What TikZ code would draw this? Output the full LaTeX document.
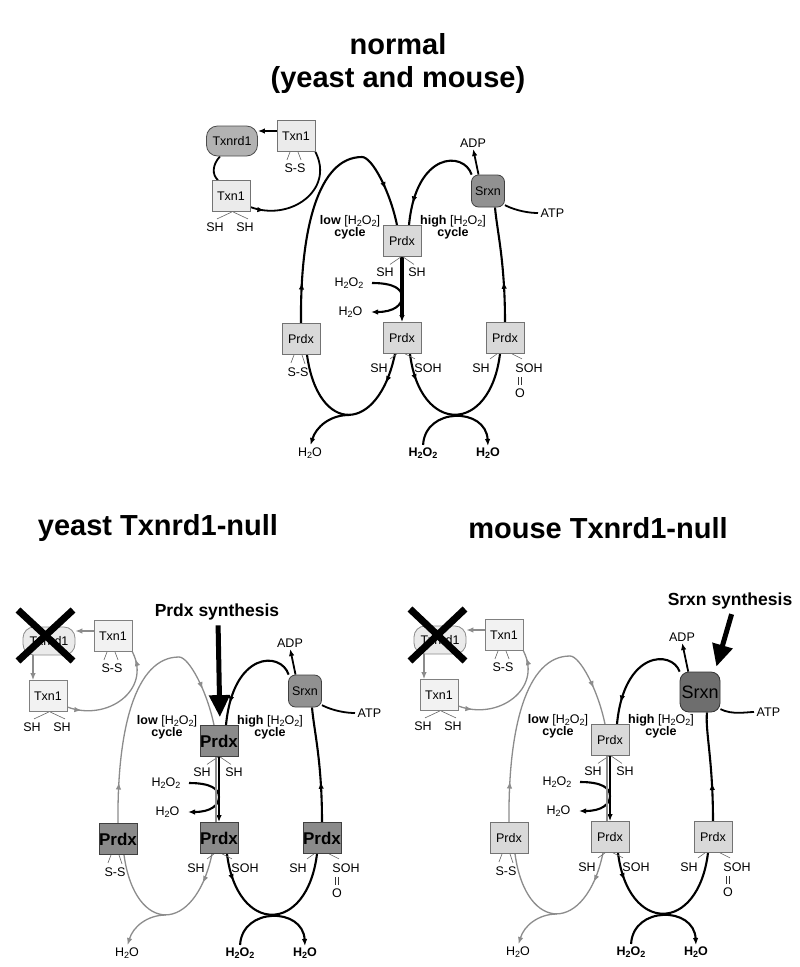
\documentclass[tikz,border=0pt]{standalone}
\usepackage{fontspec}
\setmainfont{Liberation Sans}
\usetikzlibrary{arrows.meta,decorations.markings}
\pgfdeclarelayer{back}
\pgfdeclarelayer{bg}
\pgfsetlayers{back,bg,main}
\newcommand\two{\raisebox{-0.3ex}{\scalebox{0.72}{2}}}
\newcommand\hho{H\two O}
\newcommand\hhoo{H\two O\two}
\tikzset{
  >={Latex[length=7pt,width=5.5pt]},
  mk/.style={postaction={decorate,decoration={markings,mark=at position #1 with {\arrow{>}}}}},
  lbl/.style={font=\fontsize{12.5}{12}\selectfont,inner sep=0.5pt},
  boldlbl/.style={lbl,font=\bfseries\fontsize{12.5}{12}\selectfont},
  box/.style={draw=black!55,line width=0.8pt,minimum width=38pt,minimum height=31pt,inner sep=0pt,font=\fontsize{12.5}{13}\selectfont},
  prdx/.style={box,fill=black!15},
  txn/.style={box,fill=black!8},
  txnrd/.style={box,fill=black!30,draw=black!70,rounded corners=11pt,minimum width=51pt,minimum height=30pt},
  srxn/.style={box,fill=black!43,draw=black!75,rounded corners=7pt,minimum width=33pt,minimum height=32pt},
  mainl/.style={line width=2.1pt},
  lowl/.style={line width=2.1pt},
  adpl/.style={line width=1.8pt},
  txnl/.style={line width=1.8pt},
  txnloop/.style={mk=0.13},
  midl/.style={line width=3.6pt},
  tick/.style={draw=black!60,line width=0.6pt},
  title/.style={font=\bfseries\fontsize{29}{30}\selectfont,inner sep=0pt},
  synth/.style={font=\bfseries\fontsize{17.5}{18}\selectfont,inner sep=0pt},
  bigarrow/.style={line width=5pt,-{Triangle[length=22pt,width=20pt]}},
  cross/.style={line width=7pt,black}
}
\newcommand\drawcycle[1]{%
  \node[prdx] (#1P0) at (0,0) {Prdx};
  \node[prdx] (#1P1) at (0,97) {Prdx};
  \node[prdx] (#1P2) at (-101,98) {Prdx};
  \node[prdx] (#1P3) at (103,97) {Prdx};
  \node[srxn] (#1S) at \srxnat {Srxn};
  \node[txnrd] (#1R) at (-170,-100) {Txnrd1};
  \node[txn] (#1T1) at (-106,-105) {Txn1};
  \node[txn] (#1T2) at (-171,-45) {Txn1};
  \node[lbl] (#1a1) at (-17,31) {SH};
  \node[lbl] (#1a2) at (15,31) {SH};
  \node[lbl] (#1b1) at (-23,127) {SH};
  \node[lbl] (#1b2) at (26,127) {SOH};
  \node[lbl] (#1c1) at (79,127) {SH};
  \node[lbl] (#1c2) at (127,127) {SOH};
  \node[lbl] (#1cO) at (118,152) {O};
  \node[lbl] (#1d) at (-104,131) {S-S};
  \node[lbl] (#1e) at (-107,-73) {S-S};
  \node[lbl] (#1f1) at (-187,-14) {SH};
  \node[lbl] (#1f2) at (-157,-14) {SH};
  \node[lbl,anchor=east] (#1hm) at (-38,42) {\hhoo};
  \node[lbl,anchor=east] (#1om) at (-39,71) {\hho};
  \node[lbl,align=center] (#1lc) at (-52,-14) {\textbf{low} [\hhoo]\\\textbf{cycle}};
  \node[lbl,align=center] (#1hc) at (51,-14) {\textbf{high} [\hhoo]\\\textbf{cycle}};
  \node[lbl] (#1w1) at (-92,212) {\hho};
  \node[boldlbl] (#1w2) at (21,212) {\hhoo};
  \node[boldlbl] (#1w3) at (86,212) {\hho};
  \node[lbl] (#1adp) at \adpat {ADP};
  \node[lbl,anchor=west] (#1atp) at \atpat {ATP};
  \path ([yshift=5pt]#1T1.west) coordinate (#1tw);
  \begin{pgfonlayer}{bg}
    \draw[lowl,mk=0.15,mk=0.86] (#1P2.north) .. controls (-102,-11) and (-84,-84) .. (-40,-84) .. controls (-30,-84) and (-12,-50) .. ([xshift=-5pt]#1P0.north);
    \draw[lowl,mk=0.19] ([xshift=-7pt]#1P1.south) .. controls (-24,194) and (-84,194) .. ([xshift=6pt]#1P2.south);
    \draw[lowl,->,shorten >=2pt] (-53,174) .. controls (-72,174) and (-86,186) .. (#1w1.north);
    \draw[midl,->] (#1P0.south) -- (#1P1.north);
    \draw[mainl,->] ([xshift=8pt]#1hm.east) .. controls (-8,42) and (0,48) .. (0,56) .. controls (0,64) and (-8,71) .. ([xshift=8pt]#1om.east);
    \draw[mainl,mk=0.8] (#1S.135) .. controls (62,-90) and (14,-90) .. ([xshift=7pt]#1P0.north);
    \draw[mainl,mk=0.35] (#1P3.north) .. controls (103,20) and (95,-10) .. ([xshift=7pt]#1S.south);
    \draw[mainl,mk=0.17] ([xshift=8pt]#1P1.south) .. controls (18,194) and (88,194) .. ([xshift=-5pt]#1P3.south);
    \draw[mainl,->,shorten <=2pt,shorten >=1pt] (#1w2.north) .. controls (23,166) and (84,166) .. (#1w3.north);
    \draw[adpl,->,shorten >=1pt] (#1S.120) -- (#1adp.south);
    \draw[adpl,shorten >=2pt] (#1S.-40) .. controls +(12,6) and +(-10,0) .. (#1atp.west);
    \draw[txnl,txnloop] ([yshift=-11pt]#1T2.east) .. controls (-112,-19) and (-67,-51) .. (#1T1.south east);
    \draw[txnl,->] (#1tw) -- (#1tw -| #1R.east);
    \draw[tick] ([xshift=-1pt]#1P0.south) -- ++(-11,7.5);
    \draw[tick] ([xshift=1pt]#1P0.south) -- ++(11,7.5);
    \draw[tick] ([xshift=-5pt]#1P1.south) -- ++(-7,5);
    \draw[tick] ([xshift=3pt]#1P1.south) -- ++(10,5);
    \draw[tick] ([xshift=-8pt]#1P3.south) -- ++(-7,5);
    \draw[tick] ([xshift=7pt]#1P3.south) -- ++(10,5);
    \draw[tick] ([xshift=-7pt]#1P2.south) -- ++(-3,8);
    \draw[tick] ([xshift=1pt]#1P2.south) -- ++(3,9);
    \draw[tick] ([xshift=-6pt]#1T1.south) -- ++(-3,8);
    \draw[tick] ([xshift=2pt]#1T1.south) -- ++(3,8);
    \draw[tick] ([xshift=1pt]#1T2.south) -- ++(-15,7);
    \draw[tick] ([xshift=2pt]#1T2.south) -- ++(15,7);
    \draw[tick,draw=black!80] ([xshift=-1.6pt,yshift=3pt]#1cO.north) -- ++(0,-8);
    \draw[tick,draw=black!80] ([xshift=1.6pt,yshift=3pt]#1cO.north) -- ++(0,-8);
  \end{pgfonlayer}
}
\begin{document}
\begin{tikzpicture}[x=1pt,y=-1pt]
\begin{pgfonlayer}{back}
\fill[white] (0,0) rectangle (800,967);
\end{pgfonlayer}
\useasboundingbox (0,0) rectangle (800,967);
\node[title] (t1) at (398,44) {normal};
\node[title] (t2) at (398,80) {(yeast and mouse)};
\node[title] (t3) at (158,528) {yeast Txnrd1-null};
\node[title] (t4) at (598,528) {mouse Txnrd1-null};
% top: normal
\begin{scope}[shift={(402,241)}]
  \def\srxnat{(86,-50)}\def\adpat{(71,-98)}\def\atpat{(138,-28)}
  \drawcycle{a}
  \begin{pgfonlayer}{bg}
    \draw[txnl] ([xshift=-12pt]aR.south) .. controls (-190,-76) and (-190,-66) .. ([xshift=-13pt]aT2.north);
  \end{pgfonlayer}
\end{scope}
% bottom left: yeast
\begin{scope}[shift={(219,741)},
  prdx/.style={box,fill=black!46,draw=black!75,font=\bfseries\fontsize{17}{17}\selectfont},
  txn/.style={box,fill=black!5,draw=black!50},
  txnrd/.style={box,fill=black!8,draw=black!45,rounded corners=11pt,minimum width=52pt,minimum height=28pt},
  lowl/.style={line width=1.3pt,color=black!45},
  txnl/.style={line width=1.3pt,color=black!45},
  txnloop/.style={mk=0.13,mk=0.93},
  midl/.style={line width=2.2pt}]
  \def\srxnat{(86,-50)}\def\adpat{(71,-98)}\def\atpat{(138,-28)}
  \drawcycle{b}
  \begin{pgfonlayer}{bg}
    \draw[txnl,->] ([xshift=-16pt]bR.south) -- ([xshift=-16pt]bR.south |- bT2.north);
    \draw[lowl] ([xshift=-3pt]bP0.south) -- ([xshift=-3pt]bP1.north);
  \end{pgfonlayer}
  \draw[cross] (-201,-131) -- (-146,-80);
  \draw[cross] (-146,-131) -- (-201,-80);
  \node[synth] (bsyn) at (-2,-129) {Prdx synthesis};
  \draw[bigarrow,shorten <=5pt,shorten >=8pt] ([xshift=1pt]bsyn.south) -- ([xshift=1pt]bP0.north);
\end{scope}
% bottom right: mouse
\begin{scope}[shift={(610,740)},
  srxn/.style={box,fill=black!57,draw=black!80,rounded corners=9pt,minimum width=40pt,minimum height=40pt,font=\fontsize{18}{18}\selectfont},
  txn/.style={box,fill=black!5,draw=black!50},
  txnrd/.style={box,fill=black!8,draw=black!45,rounded corners=11pt,minimum width=52pt,minimum height=28pt},
  lowl/.style={line width=1.3pt,color=black!45},
  txnl/.style={line width=1.3pt,color=black!45},
  txnloop/.style={mk=0.13,mk=0.93},
  midl/.style={line width=2.2pt}]
  \def\srxnat{(90,-48)}\def\adpat{(72,-103)}\def\atpat{(146,-28)}
  \drawcycle{c}
  \begin{pgfonlayer}{bg}
    \draw[txnl,->] ([xshift=-16pt]cR.south) -- ([xshift=-16pt]cR.south |- cT2.north);
    \draw[lowl] ([xshift=-3pt]cP0.south) -- ([xshift=-3pt]cP1.north);
  \end{pgfonlayer}
  \draw[cross] (-200,-131) -- (-145,-79);
  \draw[cross] (-145,-131) -- (-200,-79);
  \node[synth] (csyn) at (120,-139) {Srxn synthesis};
  \draw[bigarrow,shorten <=5pt] ([xshift=3pt]csyn.south) -- ([shift={(-4pt,5pt)}]cS.north east);
\end{scope}
\end{tikzpicture}
\end{document}
